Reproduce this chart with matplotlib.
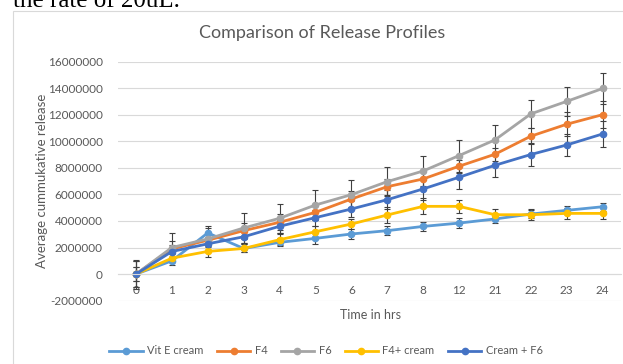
import matplotlib.pyplot as plt
from matplotlib.patches import Rectangle

plt.rcParams['font.family'] = ['Lato', 'DejaVu Sans']

hours = ['0', '1', '2', '3', '4', '5', '6', '7', '8', '12', '21', '22', '23', '24']

vit_e = [0, 1000000, 3100000, 1930000, 2390000, 2690000, 3020000, 3270000, 3590000, 3840000, 4150000, 4520000, 4800000, 5070000]
f4 = [0, 1900000, 2550000, 3270000, 3900000, 4650000, 5650000, 6580000, 7160000, 8120000, 9020000, 10380000, 11280000, 12000000]
f6 = [0, 2000000, 2650000, 3470000, 4200000, 5200000, 5980000, 6960000, 7760000, 8920000, 10100000, 12060000, 13000000, 13970000]
f4_cream = [0, 1200000, 1710000, 1930000, 2590000, 3190000, 3770000, 4450000, 5100000, 5100000, 4470000, 4470000, 4570000, 4570000]
cream_f6 = [0, 1700000, 2280000, 2810000, 3600000, 4250000, 4900000, 5600000, 6410000, 7290000, 8190000, 9000000, 9720000, 10550000]

vit_e_err = [1000000, 300000, 400000, 300000, 300000, 400000, 400000, 350000, 350000, 350000, 300000, 300000, 300000, 300000]
f4_err = [1000000, 600000, 500000, 600000, 600000, 600000, 600000, 600000, 600000, 500000, 500000, 600000, 900000, 1000000]
f6_err = [1100000, 1100000, 1000000, 1100000, 1100000, 1100000, 1100000, 1100000, 1150000, 1200000, 1100000, 1050000, 1100000, 1150000]
f4_cream_err = [500000, 300000, 400000, 300000, 400000, 400000, 400000, 600000, 600000, 500000, 400000, 400000, 400000, 400000]
cream_f6_err = [500000, 500000, 500000, 500000, 500000, 600000, 600000, 700000, 800000, 900000, 900000, 900000, 800000, 950000]

series = [
    ('Vit E cream', vit_e, vit_e_err, '#5B9BD5'),
    ('F4', f4, f4_err, '#ED7D31'),
    ('F6', f6, f6_err, '#A5A5A5'),
    ('F4+ cream', f4_cream, f4_cream_err, '#FFC000'),
    ('Cream + F6', cream_f6, cream_f6_err, '#4472C4'),
]

fig = plt.figure(figsize=(6.23, 3.64), dpi=100)

# caption line of the document above the chart, clipped by the top edge
fig.text(13 / 623, 1 - 7 / 364, 'the rate of 20uL.', family='Liberation Serif', fontsize=18,
         va='baseline', ha='left')
fig.patches.append(Rectangle((13 / 623, -0.1), 1.2, 1 - 11 / 364 + 0.1, transform=fig.transFigure,
                             fill=False, edgecolor='#D9D9D9', linewidth=0.8))

ax = fig.add_axes([118 / 623, 1 - 300.7 / 364, 502.6 / 623, 239.2 / 364])

x = list(range(len(hours)))
for name, vals, errs, col in series:
    ax.errorbar(x, vals, yerr=errs, color=col, linewidth=2, marker='o', markersize=4.5,
                ecolor='#404040', elinewidth=0.8, capsize=2.5, capthick=0.8, label=name)

ax.set_xlim(-0.5, len(hours) - 0.5)
ax.set_ylim(-2000000, 16000000)
ax.set_yticks(range(-2000000, 16000001, 2000000))
ax.set_yticklabels([str(v) for v in range(-2000000, 16000001, 2000000)])
ax.set_xticks(x)
ax.set_xticklabels(hours)
ax.grid(axis='y', color='#D9D9D9', linewidth=0.8)
ax.set_axisbelow(True)
for s in ['top', 'right', 'left']:
    ax.spines[s].set_visible(False)
ax.spines['bottom'].set_position(('data', 0))
ax.spines['bottom'].set_color('#D9D9D9')
ax.tick_params(length=0, labelsize=8.5, colors='#595959', pad=8)
ax.tick_params(axis='y', pad=11)

fig.text(322 / 623, 1 - 33 / 364, 'Comparison of Release Profiles', ha='center', va='center',
         fontsize=13, color='#595959')
fig.text(42 / 623, 1 - 181 / 364, 'Average cummukative release', rotation=90, ha='center', va='center',
         fontsize=9.5, color='#595959')
fig.text(370 / 623, 1 - 315 / 364, 'Time in hrs', ha='center', va='center', fontsize=9, color='#595959')

handles, labels = ax.get_legend_handles_labels()
handles = [h[0] for h in handles]
fig.legend(handles, labels, loc='center', bbox_to_anchor=(326 / 623, 1 - 351 / 364), ncol=5, frameon=False,
           fontsize=8, labelcolor='#595959', handlelength=3, handletextpad=0.4, columnspacing=1.2)

fig.savefig('out.png', dpi=100)
